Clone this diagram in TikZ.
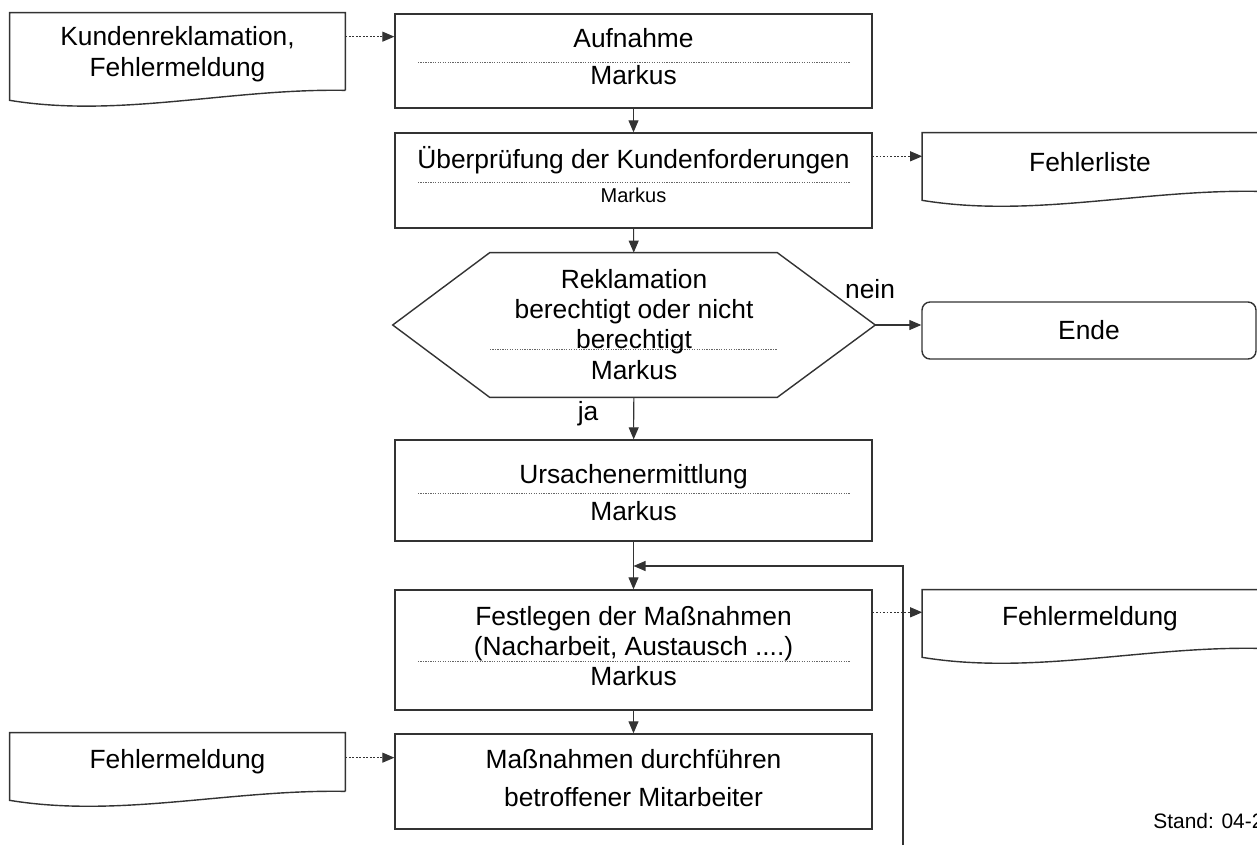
\documentclass[tikz,border=0pt]{standalone}
\usepackage{fontspec}
\setmainfont{Liberation Sans}
\usepackage{tikz}
\usetikzlibrary{arrows.meta, calc, positioning}
\colorlet{edge}{black!80}
\colorlet{sepline}{black!60}
\newcommand{\bigtxt}{\fontsize{15}{17.6}\selectfont}
\newcommand{\smalltxt}{\fontsize{11.4}{13.7}\selectfont}
% outline of a document shape around a node (name, drop of the left corner)
\newcommand{\docoutline}[2]{%
  \draw[edge, line width=0.8pt] (#1.south east) -- (#1.north east) -- (#1.north west)
    -- ($(#1.south west)+(0,#2)$)
    .. controls ($(#1.south west)+(110,#2+18)$) and ($(#1.south west)+(220,-2)$) .. (#1.south east);}

\begin{document}
\begin{tikzpicture}[x=0.02cm, y=-0.02cm,
    proc/.style={draw=edge, line width=0.8pt, minimum width=9.54cm, inner sep=0pt},
    doc/.style={minimum width=6.7cm, inner sep=0pt, align=center, font=\bigtxt},
    txt/.style={anchor=base, inner sep=0pt, font=\bigtxt},
    small/.style={anchor=base, inner sep=0pt, font=\smalltxt},
    sep/.style={draw=sepline, line width=0.4pt, dash pattern=on 0.7pt off 0.7pt},
    flow/.style={draw=edge, line width=0.6pt, -{Triangle[length=0.24cm, width=0.2cm]}},
    ref/.style={flow, dash pattern=on 1pt off 1pt}]
    \clip (0,0) rectangle (1257,845);

    % Documents
    \node[doc, minimum height=1.54cm, text depth=0pt] (kunde) at (177.5,51.5) {Kundenreklamation,\\Fehlermeldung};
    \docoutline{kunde}{10}
    \node[doc, minimum height=1.16cm] (fliste) at (1090,162) {Fehlerliste};
    \docoutline{fliste}{9}
    \node[doc, minimum height=1.16cm] (fmeldr) at (1090,619) {Fehlermeldung};
    \docoutline{fmeldr}{9}
    \node[doc, minimum height=1.16cm] (fmeldl) at (177.5,762) {Fehlermeldung};
    \docoutline{fmeldl}{9}

    % Process boxes
    \node[proc, minimum height=1.88cm] (auf) at (633.5,61) {};
    \node[txt] (aufT) at (633.5,47) {Aufnahme};
    \draw[sep] (418,62) -- (850,62);
    \node[txt] (aufM) at (633.5,84) {Markus};

    \node[proc, minimum height=1.9cm] (ueber) at (633.5,180.5) {};
    \node[txt] (ueberT) at (633.5,168) {Überprüfung der Kundenforderungen};
    \draw[sep] (418,182) -- (850,182);
    \node[small] (ueberM) at (633.5,202) {Markus};

    % Decision
    \node[minimum width=9.64cm, minimum height=2.88cm, inner sep=0pt] (hex) at (634,325) {};
    \draw[edge, line width=0.8pt] (hex.west) -- ($(hex.north west)+(97,0)$) -- ($(hex.north east)+(-98,0)$)
      -- (hex.east) -- ($(hex.south east)+(-98,0)$) -- ($(hex.south west)+(97,0)$) -- cycle;
    \draw[sep] (490,349) -- (777,349);
    \node[txt] (hexA) at (634,288) {Reklamation};
    \node[txt] (hexB) at (634,318) {berechtigt oder nicht};
    \node[txt] (hexC) at (634,348) {berechtigt};
    \node[txt] (hexM) at (634,379) {Markus};

    \node[draw=edge, line width=0.8pt, rounded corners=0.16cm, minimum width=6.68cm,
      minimum height=1.14cm, font=\bigtxt] (ende) at (1089,330.5) {Ende};

    \node[proc, minimum height=2.02cm] (urs) at (633.5,490.5) {};
    \node[txt] (ursT) at (633.5,483) {Ursachenermittlung};
    \draw[sep] (418,493) -- (850,493);
    \node[txt] (ursM) at (633.5,520) {Markus};

    \node[proc, minimum height=2.4cm] (fest) at (633.5,650) {};
    \node[txt] (festA) at (633.5,625) {Festlegen der Maßnahmen};
    \node[txt] (festB) at (633.5,655) {(Nacharbeit, Austausch ....)};
    \draw[sep] (418,661) -- (850,661);
    \node[txt] (festM) at (633.5,685) {Markus};

    \node[proc, minimum height=1.9cm] (mass) at (633.5,781.5) {};
    \node[txt] (massA) at (633.5,768) {Maßnahmen durchführen};
    \node[txt] (massB) at (633.5,806) {betroffener Mitarbeiter};

    % Labels
    \node[txt] (nein) at (870,298) {nein};
    \node[txt] (ja) at (588,420) {ja};
    \node[anchor=base west, inner sep=0pt, font=\fontsize{11.9}{14}\selectfont] (stand) at (1153,828) {Stand: 04-2};

    % Flow
    \draw[flow] (auf) -- (ueber);
    \draw[flow] (ueber) -- (hex);
    \draw[flow] (hex) -- (urs);
    \draw[flow] (hex.east) -- (hex.east -| ende.west);
    \draw[flow] (urs) -- (fest);
    \draw[flow] (fest) -- (mass);
    \coordinate (back) at (903,845);
    \coordinate (merge) at (633.5,566);
    \draw[flow] (back) |- (merge);

    % Document links
    \draw[ref] ($(kunde.north east)+(0,24)$) coordinate (k1) -- (k1 -| auf.west);
    \draw[ref] ($(ueber.north east)+(0,24)$) coordinate (u1) -- (u1 -| fliste.west);
    \draw[ref] ($(fest.north east)+(0,23)$) coordinate (f1) -- (f1 -| fmeldr.west);
    \draw[ref] ($(fmeldl.north east)+(0,25)$) coordinate (m1) -- (m1 -| mass.west);
\end{tikzpicture}
\end{document}
